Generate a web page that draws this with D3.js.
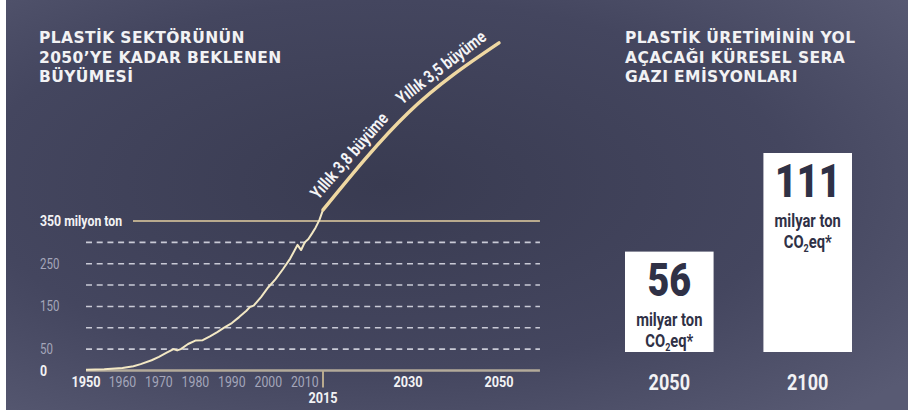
<!DOCTYPE html>
<html lang="tr">
  <head>
    <meta charset="UTF-8" />
    <title>Plastik sektörü</title>
    <script src="https://d3js.org/d3.v7.min.js"></script>
    <style>
      body { margin: 0; background: #fff; }
      .cond { font-family: Roboto, "Liberation Sans", sans-serif; }
      .wide { font-family: "DejaVu Sans", Verdana, sans-serif; font-weight: bold; }
    </style>
  </head>
  <body>
    <svg width="911" height="414" id="chart"></svg>

    <script>
      // historical production, million tonnes
      const histYears = [1950, 1955, 1960, 1963, 1965, 1968, 1970, 1972, 1974, 1975, 1976, 1978, 1980, 1982, 1984,
        1986, 1988, 1990, 1992, 1994, 1995, 1996, 1998, 2000, 2002, 2004, 2006, 2008, 2009, 2010, 2011, 2012,
        2013, 2014, 2015];
      const histValues = [2, 3, 6, 10, 15, 24, 32, 41, 50, 47, 50, 62, 70, 71, 80,
        90, 101, 111, 125, 140, 149, 152, 172, 195, 214, 237, 262, 294, 282, 300, 308, 321,
        335, 352, 376];

      // projection
      const projYears = [2015, 2030, 2050];
      const projValues = [376, 603, 767];
      const growthLabels = ["Yıllık 3,8 büyüme", "Yıllık 3,5 büyüme"];

      // axis ticks
      const greyYears = [1960, 1970, 1980, 1990, 2000, 2010];
      const boldYears = [1950, 2030, 2050];
      const markYear = 2015;
      const dashedTicks = [50, 100, 150, 200, 250, 300];
      const greyTickLabels = [50, 150, 250];

      // emissions, billion tonnes CO2eq
      const emisYears = ["2050", "2100"];
      const emisValues = [56, 111];

      const titleLeft = ["PLASTİK SEKTÖRÜNÜN", "2050’YE KADAR BEKLENEN", "BÜYÜMESİ"];
      const titleRight = ["PLASTİK ÜRETİMİNİN YOL", "AÇACAĞI KÜRESEL SERA", "GAZI EMİSYONLARI"];

      const svg = d3.select("#chart");
      const SX = 0.82; // horizontal squeeze to fake a condensed face

      // condensed text: g translated (and maybe rotated), then squeezed
      function ctext(parent, x, y, str, o) {
        const gg = parent.append("g")
          .attr("transform", `translate(${x},${y})${o.rot ? " rotate(" + o.rot + ")" : ""} scale(${o.sx || SX},1)`);
        return gg.append("text").attr("class", "cond")
          .attr("text-anchor", o.anchor || "start")
          .attr("dy", o.dy || 0)
          .attr("font-size", o.size)
          .attr("font-weight", o.weight || "normal")
          .attr("fill", o.fill || "#f2f2f4")
          .text(str);
      }

      // background
      const defs = svg.append("defs");
      const grad = defs.append("radialGradient").attr("id", "bg")
        .attr("cx", "0.42").attr("cy", "0.45").attr("r", "0.75");
      grad.append("stop").attr("offset", "0").attr("stop-color", "#393b51");
      grad.append("stop").attr("offset", "0.6").attr("stop-color", "#44465f");
      grad.append("stop").attr("offset", "1").attr("stop-color", "#585a73");
      svg.append("rect").attr("x", 6).attr("y", 0).attr("width", 902).attr("height", 410)
        .attr("fill", "url(#bg)");

      // titles
      [[titleLeft, 39], [titleRight, 625]].forEach(([lines, x]) => {
        svg.append("text").attr("class", "wide").attr("fill", "#f2f2f4")
          .attr("font-size", 15.5).attr("letter-spacing", 0.4)
          .selectAll("tspan").data(lines).join("tspan")
          .attr("x", x).attr("y", (d, i) => 43 + i * 19.5)
          .text(d => d);
      });

      // ---- left chart ----
      const x = d3.scaleLinear().domain([1950, 2015, 2030, 2050]).range([86, 323, 408, 499]);
      const y = d3.scaleLinear().domain([0, 350]).range([370.5, 221]);
      const xEnd = x(2059);

      const g = svg.append("g");

      g.selectAll(".dash").data(dashedTicks).join("line")
        .attr("x1", x(1950)).attr("x2", xEnd)
        .attr("y1", d => y(d)).attr("y2", d => y(d))
        .attr("stroke", "#c9cad6").attr("stroke-width", 1.6)
        .attr("stroke-dasharray", "6,4.7");

      g.append("line").attr("x1", 133).attr("x2", xEnd)
        .attr("y1", y(350)).attr("y2", y(350))
        .attr("stroke", "#b9aa8e").attr("stroke-width", 2);

      g.append("line").attr("x1", x(1950)).attr("x2", xEnd)
        .attr("y1", y(0)).attr("y2", y(0))
        .attr("stroke", "#b3aa9a").attr("stroke-width", 2.5);

      g.append("line").attr("x1", x(markYear)).attr("x2", x(markYear))
        .attr("y1", y(0)).attr("y2", y(0) + 17)
        .attr("stroke", "#b9aa8e").attr("stroke-width", 2);

      // y labels
      greyTickLabels.forEach(v => ctext(g, 40, y(v), v, { size: 14, dy: "0.36em", fill: "#a4a6ba" }));
      ctext(g, 40, y(0), "0", { size: 15, dy: "0.36em", weight: "bold" });
      ctext(g, 40, y(350), "350 milyon ton", { size: 15, dy: "0.36em", weight: "bold" });

      // x labels
      greyYears.forEach(yr => ctext(g, x(yr), 387, yr, { size: 15, anchor: "middle", fill: "#a4a6ba" }));
      boldYears.forEach(yr => ctext(g, x(yr), 387, yr, { size: 15.5, anchor: "middle", weight: "bold" }));
      ctext(g, x(markYear), 403, markYear, { size: 15.5, anchor: "middle", weight: "bold" });

      // lines
      const line = d3.line().x(d => x(d[0])).y(d => y(d[1]));
      g.append("path")
        .datum(histYears.map((yr, i) => [yr, histValues[i]]))
        .attr("d", line)
        .attr("fill", "none").attr("stroke", "#f3e8c4").attr("stroke-width", 2)
        .attr("stroke-linejoin", "round");

      const proj = projYears.map((yr, i) => [yr, projValues[i]]);
      g.append("path")
        .datum(proj)
        .attr("d", line.curve(d3.curveMonotoneX))
        .attr("fill", "none").attr("stroke", "#efd8a2").attr("stroke-width", 3.5)
        .attr("stroke-linecap", "round");

      // growth labels along the projection segments
      growthLabels.forEach((txt, i) => {
        const x0 = x(proj[i][0]), y0 = y(proj[i][1]);
        const x1 = x(proj[i + 1][0]), y1 = y(proj[i + 1][1]);
        const ang = Math.atan2(y1 - y0, x1 - x0) * 180 / Math.PI;
        const t = i === 0 ? 0.45 : 0.47;
        ctext(g, x0 + (x1 - x0) * t, y0 + (y1 - y0) * t, txt,
          { size: 17.5, anchor: "middle", weight: "bold", dy: -10, rot: ang, sx: 0.8, fill: "#f4f4f6" });
      });

      // ---- right chart: bars ----
      const xb = d3.scaleBand().domain(emisYears).range([625, 852]).paddingInner(0.36);
      const yb = d3.scaleLinear().domain([0, 111]).range([352, 153]);
      const barG = svg.append("g");

      barG.selectAll("rect").data(emisYears).join("rect")
        .attr("x", d => xb(d)).attr("width", xb.bandwidth())
        .attr("y", (d, i) => yb(emisValues[i]))
        .attr("height", (d, i) => yb(0) - yb(emisValues[i]))
        .attr("fill", "#ffffff");

      const ink = "#2f3146";
      emisYears.forEach((yr, i) => {
        const cx = xb(yr) + xb.bandwidth() / 2;
        const top = yb(emisValues[i]);
        ctext(barG, cx, top + 44, emisValues[i], { size: 46, anchor: "middle", weight: 900, fill: ink });
        ctext(barG, cx, top + 74, "milyar ton", { size: 18, anchor: "middle", weight: "bold", fill: ink });
        const co2 = ctext(barG, cx, top + 95, "", { size: 18, anchor: "middle", weight: "bold", fill: ink });
        co2.append("tspan").text("CO");
        co2.append("tspan").attr("font-size", 11).attr("dy", 4).text("2");
        co2.append("tspan").attr("dy", -4).text("eq*");
        ctext(barG, cx, 390, yr, { size: 22, anchor: "middle", weight: "bold" });
      });
    </script>
  </body>
</html>
